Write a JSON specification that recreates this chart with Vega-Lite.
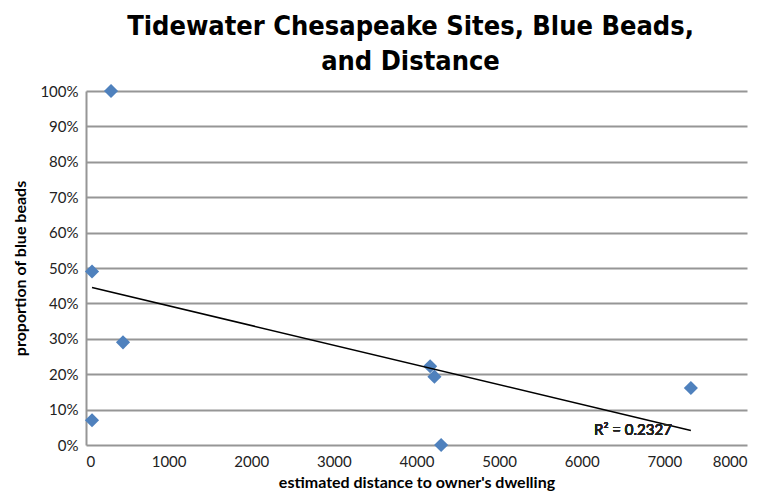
{
  "$schema": "https://vega.github.io/schema/vega-lite/v6.json",
  "width": 661,
  "height": 354,
  "autosize": {"type": "none"},
  "padding": {"left": 86, "top": 91, "right": 28, "bottom": 47},
  "background": "white",
  "title": {
    "text": ["Tidewater Chesapeake Sites, Blue Beads,", "and Distance"],
    "font": "DejaVu Sans Condensed",
    "fontSize": 27,
    "fontWeight": "bold",
    "color": "black",
    "anchor": "middle",
    "lineHeight": 35,
    "offset": 8,
    "dx": -6
  },
  "config": {
    "view": {"stroke": null},
    "axis": {
      "labelFont": "Lato",
      "titleFont": "Lato",
      "labelFontSize": 15,
      "titleFontSize": 16,
      "labelColor": "#222222",
      "titleColor": "black",
      "titleFontWeight": "bold",
      "ticks": false,
      "domainColor": "#969696",
      "domainWidth": 2,
      "gridColor": "#969696",
      "gridWidth": 2,
      "labelOverlap": false
    }
  },
  "data": {
    "values": [
      {"distance": 303, "proportion": 1.0},
      {"distance": 73, "proportion": 0.49},
      {"distance": 448, "proportion": 0.29},
      {"distance": 73, "proportion": 0.07},
      {"distance": 4165, "proportion": 0.2225},
      {"distance": 4217, "proportion": 0.193},
      {"distance": 4298, "proportion": 0.0},
      {"distance": 7321, "proportion": 0.161}
    ]
  },
  "encoding": {
    "x": {
      "field": "distance", "type": "quantitative",
      "scale": {"domain": [0, 8000], "nice": false},
      "axis": {"values": [0,1000,2000,3000,4000,5000,6000,7000,8000], "format": "d", "grid": false, "title": "estimated distance to owner's dwelling", "titlePadding": 5, "labelPadding": 9, "domain": false}
    },
    "y": {
      "field": "proportion", "type": "quantitative",
      "scale": {"domain": [0, 1], "nice": false},
      "axis": {"values": [0,0.1,0.2,0.3,0.4,0.5,0.6,0.7,0.8,0.9,1.0], "format": ".0%", "title": "proportion of blue beads", "titlePadding": 11, "labelPadding": 8}
    }
  },
  "layer": [
    {
      "mark": {"type": "point", "shape": "diamond", "filled": true, "size": 200, "color": "#4F81BD", "opacity": 1}
    },
    {
      "transform": [{"regression": "proportion", "on": "distance"}],
      "mark": {"type": "line", "color": "black", "strokeWidth": 1.6}
    },
    {
      "mark": {"type": "text", "font": "Lato", "fontSize": 15, "fontWeight": "normal", "color": "#222222", "align": "center", "baseline": "middle"},
      "encoding": {
        "x": {"datum": 6620, "type": "quantitative"},
        "y": {"datum": 0.042, "type": "quantitative"},
        "text": {"value": "R² = 0.2327"}
      }
    }
  ]
}
